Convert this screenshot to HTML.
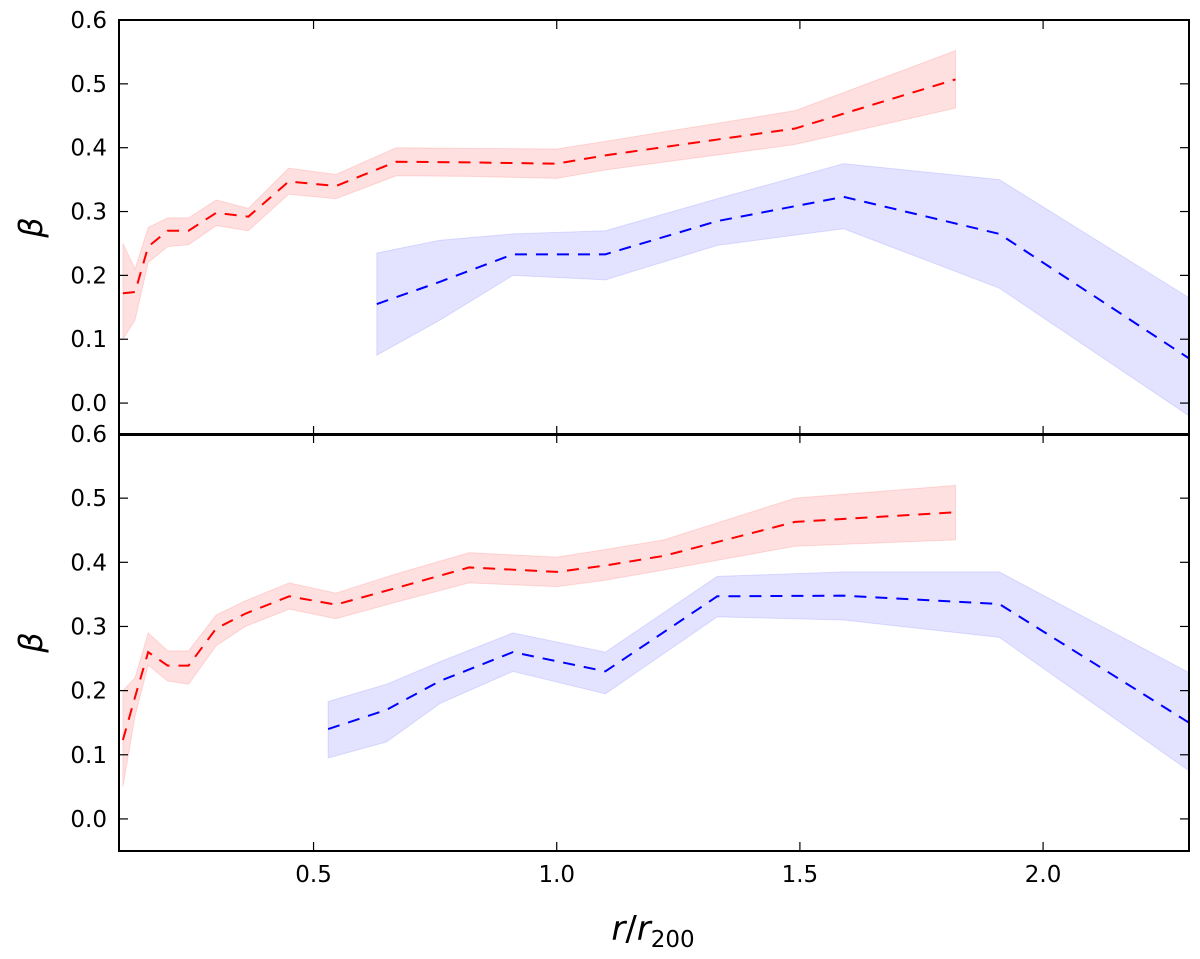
<!DOCTYPE html>
<html><head><meta charset="utf-8"><style>
body{margin:0;background:#fff;}
svg text{font-family:"DejaVu Sans","Liberation Sans",sans-serif;}
</style></head><body>
<svg id="chart" width="1200" height="954" xmlns="http://www.w3.org/2000/svg"></svg>
<script>
const xTicks=[0.5,1.0,1.5,2.0];
const yTicks=[0.0,0.1,0.2,0.3,0.4,0.5,0.6];
// top panel
const topRedX=[0.108,0.133,0.16,0.2,0.243,0.3,0.366,0.449,0.546,0.67,0.82,1.0,1.1,1.49,1.82];
const topRedY=[0.172,0.174,0.245,0.27,0.27,0.298,0.292,0.347,0.34,0.378,0.377,0.375,0.388,0.43,0.507];
const topRedLo=[0.10,0.13,0.22,0.245,0.248,0.278,0.27,0.327,0.32,0.356,0.355,0.352,0.365,0.405,0.462];
const topRedHi=[0.25,0.21,0.275,0.29,0.29,0.318,0.305,0.368,0.358,0.4,0.399,0.398,0.41,0.458,0.552];
const topBlueX=[0.63,0.76,0.91,1.1,1.33,1.59,1.91,2.3];
const topBlueY=[0.155,0.19,0.233,0.233,0.285,0.323,0.265,0.07];
const topBlueLo=[0.075,0.13,0.2,0.193,0.247,0.273,0.18,-0.02];
const topBlueHi=[0.235,0.255,0.265,0.27,0.32,0.375,0.35,0.165];
// bottom panel
const botRedX=[0.108,0.133,0.16,0.2,0.243,0.3,0.36,0.45,0.546,0.67,0.82,1.0,1.1,1.22,1.49,1.82];
const botRedY=[0.123,0.19,0.26,0.239,0.239,0.297,0.32,0.347,0.334,0.36,0.392,0.385,0.395,0.41,0.463,0.478];
const botRedLo=[0.05,0.16,0.24,0.215,0.21,0.27,0.3,0.327,0.312,0.338,0.368,0.362,0.372,0.388,0.425,0.435];
const botRedHi=[0.2,0.22,0.29,0.262,0.262,0.318,0.34,0.368,0.352,0.382,0.415,0.408,0.42,0.435,0.5,0.52];
const botBlueX=[0.53,0.65,0.76,0.91,1.1,1.33,1.59,1.91,2.3];
const botBlueY=[0.14,0.17,0.215,0.26,0.23,0.347,0.348,0.335,0.15];
const botBlueLo=[0.095,0.12,0.18,0.23,0.195,0.315,0.31,0.283,0.075];
const botBlueHi=[0.183,0.21,0.245,0.29,0.26,0.378,0.385,0.385,0.228];

const NS="http://www.w3.org/2000/svg";
const svg=document.getElementById('chart');
const X0=119,X1=1189,xmin=0.1,xmax=2.3;
const sx=v=>X0+(v-xmin)/(xmax-xmin)*(X1-X0);
const panels=[{top:20,bot:435,name:'top'},{top:434,bot:851,name:'bottom'}];
const ymin=-0.05,ymax=0.6;
function mk(tag,attrs,parent){const e=document.createElementNS(NS,tag);for(const k in attrs)e.setAttribute(k,attrs[k]);(parent||svg).appendChild(e);return e;}
function drawPanel(p,series){
  const sy=v=>p.bot-(v-ymin)/(ymax-ymin)*(p.bot-p.top);
  const g=mk('g',{});
  
  
  series.forEach(s=>{
    let d='M'+s.x.map((x,i)=>sx(x)+','+sy(s.hi[i])).join('L');
    for(let i=s.x.length-1;i>=0;i--)d+='L'+sx(s.x[i])+','+sy(s.lo[i]);
    const band=mk('path',{d:d+'Z',fill:s.fill,stroke:s.fill,'stroke-width':1},g);
    
    
    const ln=mk('polyline',{points:s.x.map((x,i)=>sx(x)+','+sy(s.y[i])).join(' '),fill:'none',stroke:s.col,'stroke-width':2,'stroke-dasharray':'12,9'},g);
    
    
  });
  const fr=mk('rect',{x:X0,y:p.top,width:X1-X0,height:p.bot-p.top,fill:'none',stroke:'#000','stroke-width':2},g);
  
  
  yTicks.forEach(t=>{
    const y=sy(t);
    mk('line',{x1:X0,x2:X0+9,y1:y,y2:y,stroke:'#000','stroke-width':1.2},g);
    mk('line',{x1:X1-9,x2:X1,y1:y,y2:y,stroke:'#000','stroke-width':1.2},g);
    const tx=mk('text',{x:X0-12,y:y+8,'text-anchor':'end','font-size':23},g);
    tx.textContent=t.toFixed(1);
    
    
  });
  xTicks.forEach(t=>{
    const x=sx(t);
    mk('line',{x1:x,x2:x,y1:p.bot,y2:p.bot-9,stroke:'#000','stroke-width':1.2},g);
    mk('line',{x1:x,x2:x,y1:p.top,y2:p.top+9,stroke:'#000','stroke-width':1.2},g);
    if(p.name==='bottom'){
      const tx=mk('text',{x:x,y:p.bot+31,'text-anchor':'middle','font-size':23},g);
      tx.textContent=t.toFixed(1);
      
      
    }
  });
  const yl=mk('text',{x:42,y:(p.top+p.bot)/2,'text-anchor':'middle','font-size':32,'font-style':'italic','font-family':'"DejaVu Serif",serif',transform:`rotate(-90 42 ${(p.top+p.bot)/2})`},g);
  yl.textContent='β';
  
  
}
drawPanel(panels[0],[
  {name:'red',x:topRedX,y:topRedY,lo:topRedLo,hi:topRedHi,fill:'rgba(255,0,0,0.12)',col:'#ff0000'},
  {name:'blue',x:topBlueX,y:topBlueY,lo:topBlueLo,hi:topBlueHi,fill:'rgba(0,0,255,0.11)',col:'#0000ff'}]);
drawPanel(panels[1],[
  {name:'red',x:botRedX,y:botRedY,lo:botRedLo,hi:botRedHi,fill:'rgba(255,0,0,0.12)',col:'#ff0000'},
  {name:'blue',x:botBlueX,y:botBlueY,lo:botBlueLo,hi:botBlueHi,fill:'rgba(0,0,255,0.11)',col:'#0000ff'}]);
const xl=mk('text',{x:653,y:940,'text-anchor':'middle','font-size':34,'font-family':'"DejaVu Serif",serif'});
xl.innerHTML='<tspan font-style="italic">r</tspan>/<tspan font-style="italic">r</tspan><tspan font-size="23" dy="7">200</tspan>';


</script>
</body></html>
